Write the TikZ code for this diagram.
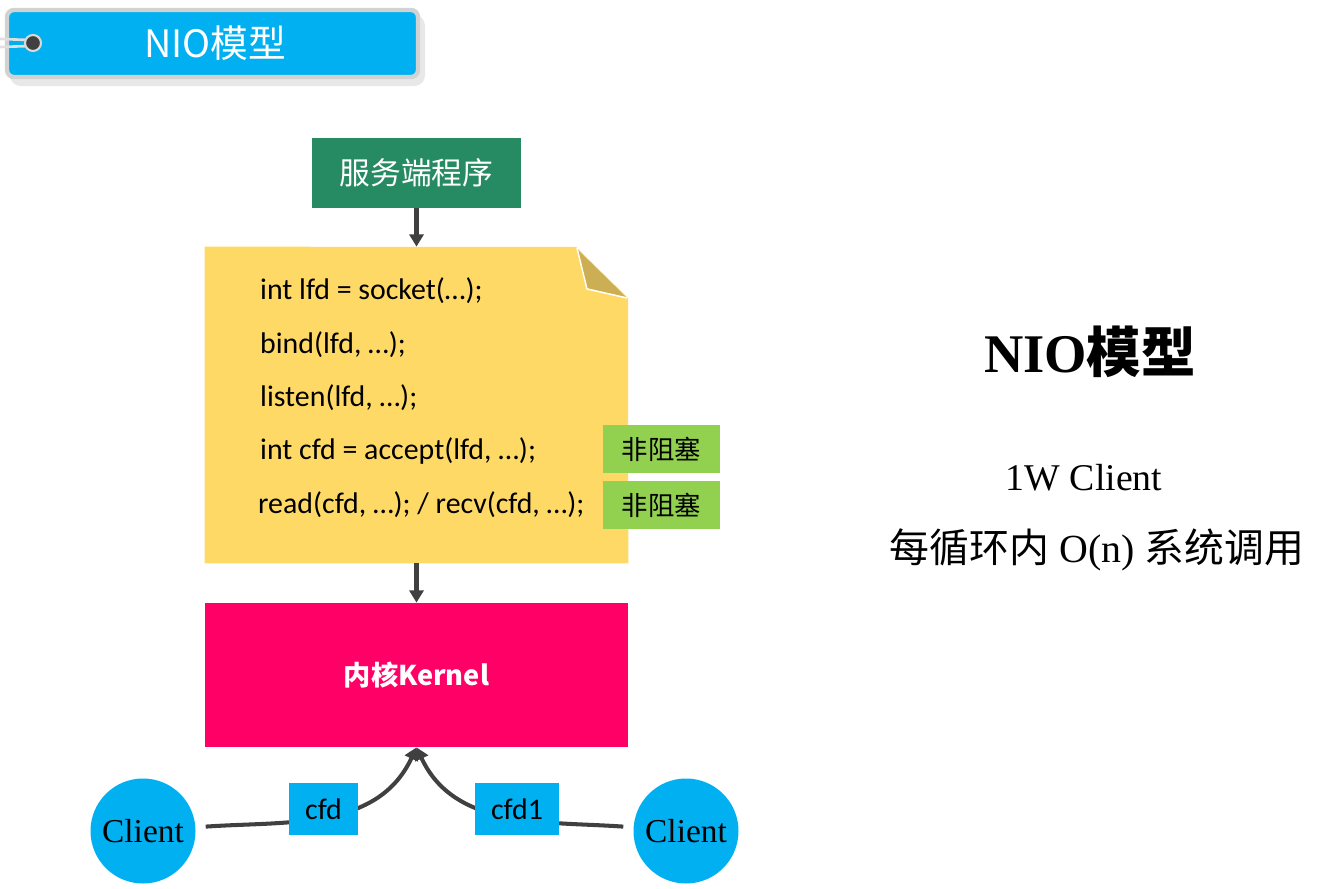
\documentclass[tikz,border=0pt]{standalone}
\usepackage{fontspec}
\setmainfont{Liberation Serif}
\newfontfamily\codefont{Carlito}
\newfontfamily\cjk{Noto Sans CJK SC}
\usetikzlibrary{arrows.meta}
\definecolor{tagblue}{RGB}{0,176,240}
\definecolor{srvgreen}{RGB}{38,138,98}
\definecolor{notebg}{RGB}{255,217,102}
\definecolor{notefold}{RGB}{204,174,84}
\definecolor{okgreen}{RGB}{146,208,80}
\definecolor{kernred}{RGB}{255,0,102}
\definecolor{arrowgray}{RGB}{64,64,64}
\def\pxl{0.02cm}

\tikzset{
  codeline/.style={anchor=west, font=\codefont\fontsize{17}{20}\selectfont},
  nbtag/.style={fill=okgreen, minimum width=117*\pxl, minimum height=48*\pxl, inner sep=0pt,
                font=\cjk\fontsize{15}{18}\selectfont},
  fdtag/.style={fill=tagblue, minimum height=52*\pxl, inner sep=0pt,
                font=\codefont\fontsize{17}{20}\selectfont},
  client/.style={circle, fill=tagblue, minimum size=105*\pxl, inner sep=0pt,
                 font=\fontsize{19}{20}\selectfont},
  flow/.style={-{Triangle[width=8pt,length=7pt]}, line width=2.3pt, arrowgray},
}

\begin{document}
\begin{tikzpicture}[x=0.02cm, y=-0.02cm]
  \useasboundingbox (0,0) rectangle (1333,889);

  % Title tag
  \fill[gray!18, rounded corners=6] (10,15) rectangle (425,86);
  \draw[fill=tagblue, draw=gray!35, line width=2.5pt, rounded corners=4] (7,10) rectangle (418,77);
  \draw[gray!25, line width=1.5pt] (0,39) -- (30,40);
  \draw[gray!25, line width=1.5pt] (0,47) -- (30,46);
  \draw[fill=gray!50!black, draw=gray!30, line width=1.2pt] (33,43) circle (8);
  \node[text=white, font=\cjk\fontsize{21.5}{24}\selectfont] (title) at (215,43) {NIO模型};

  % Server program
  \node[fill=srvgreen, text=white, minimum width=209*\pxl, minimum height=70*\pxl, inner sep=0pt,
        font=\cjk\fontsize{17.5}{20}\selectfont] (server) at (416.5,173) {服务端程序};

  % Code note with folded corner
  \node[minimum width=423*\pxl, minimum height=316*\pxl, inner sep=0pt] (code) at (416.5,405) {};
  \fill[notebg] (code.north west) -- (576,247) -- (628,298) -- (code.south east) -- (code.south west) -- cycle;
  \fill[notefold] (578,250) -- (626,297) -- (587,288) -- cycle;
  \draw[white, line width=0.8pt] (577,248) -- (587,289) -- (627,298);

  \node[codeline] (l1) at (254,291) {int lfd = socket(…);};
  \node[codeline] (l2) at (254,345) {bind(lfd, …);};
  \node[codeline] (l3) at (254,398) {listen(lfd, …);};
  \node[codeline] (l4) at (254,451) {int cfd = accept(lfd, …);};
  \node[codeline] (l5) at (252,505) {read(cfd, …); / recv(cfd, …);};

  \node[nbtag] (nb1) at (661.5,449) {非阻塞};
  \node[nbtag] (nb2) at (661.5,505) {非阻塞};

  % Kernel
  \node[fill=kernred, text=white, minimum width=423*\pxl, minimum height=144*\pxl, inner sep=0pt,
        font=\cjk\bfseries\fontsize{15.5}{18}\selectfont] (kernel) at (416.5,675) {内核Kernel};

  \draw[flow] (server) -- (code);
  \draw[flow] (code) -- (kernel);

  % Clients
  \node[client] (cli1) at (143,831) {Client};
  \node[client] (cli2) at (686,831) {Client};

  \draw[flow, shorten <=10*\pxl] (cli1) to[out=4, in=-115] (kernel.south);
  \draw[flow, shorten <=10*\pxl] (cli2) to[out=176, in=-65] (kernel.south);

  \node[fdtag, minimum width=69*\pxl] (cfd) at (323.5,809) {cfd};
  \node[fdtag, minimum width=84*\pxl] (cfd1) at (517,809) {cfd1};

  % Right side notes
  \node[font=\bfseries\fontsize{31}{34}\selectfont] (head) at (1090,352) {NIO{\cjk 模型}};
  \node[font=\fontsize{21.5}{24}\selectfont] (scale) at (1084,478) {1W Client};
  \node[font=\fontsize{22.7}{26}\selectfont] (cost) at (1097,550) {{\cjk 每循环内} O(n) {\cjk 系统调用}};
\end{tikzpicture}
\end{document}
